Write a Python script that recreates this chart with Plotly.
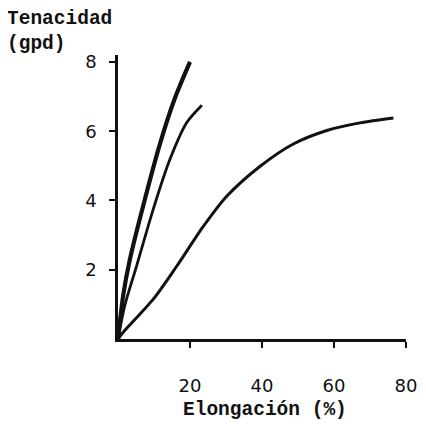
import plotly.graph_objects as go

# Curve data (elongation %, tenacity gpd)
fiber_a_x = [0, 1.5, 3.3, 7.0, 11.7, 15.8, 20.0]
fiber_a_y = [0, 1.3, 2.3, 3.85, 5.65, 6.95, 8.0]

fiber_b_x = [0, 1.9, 5.2, 9.8, 14.4, 19.1, 23.3]
fiber_b_y = [0, 0.97, 2.12, 3.75, 5.18, 6.25, 6.75]

fiber_c_x = [0, 1.5, 9.8, 16.3, 23.7, 30.2, 39.4, 48.7, 58.0, 67.2, 76.5]
fiber_c_y = [0, 0.2, 1.15, 2.1, 3.25, 4.12, 4.98, 5.63, 6.02, 6.24, 6.38]

x_ticks = [20, 40, 60, 80]
y_ticks = [2, 4, 6, 8]

# page body has an 8px margin; figure coordinates are window coordinates minus OFF
OFF = 8
L, T = 118 - OFF, 55 - OFF
PW, PH = 288, 284
W, H = 426 - OFF, 424 - OFF

fig = go.Figure()
for xs, ys, w in [(fiber_a_x, fiber_a_y, 4.2), (fiber_b_x, fiber_b_y, 2.8), (fiber_c_x, fiber_c_y, 3.0)]:
    fig.add_trace(go.Scatter(x=xs, y=ys, mode="lines",
                             line=dict(color="#111111", width=w, shape="spline", smoothing=0.8),
                             showlegend=False, hoverinfo="skip"))

tick_font = dict(family="DejaVu Sans", size=18, color="#111111")
title_font = dict(family="Liberation Mono", size=19.5, color="#111111")

fig.update_layout(
    width=W, height=H,
    margin=dict(l=L, r=W - L - PW, t=T, b=H - T - PH),
    paper_bgcolor="white", plot_bgcolor="white",
    xaxis=dict(range=[0, 80], tickvals=x_ticks, ticktext=[str(v) for v in x_ticks],
               showgrid=False, zeroline=False, showline=True, linecolor="#111111", linewidth=2.5,
               ticks="outside", ticklen=6, tickwidth=2, tickcolor="#111111",
               tickfont=tick_font, ticklabelstandoff=23, automargin=False),
    yaxis=dict(range=[0, 8.2], tickvals=y_ticks, ticktext=[str(v) for v in y_ticks],
               showgrid=False, zeroline=False, showline=True, linecolor="#111111", linewidth=2.5,
               ticks="outside", ticklen=6, tickwidth=2, tickcolor="#111111",
               tickfont=tick_font, ticklabelstandoff=9, automargin=False),
)


def to_paper(px, py):
    return ((px - OFF) - L) / PW, (T + PH - (py - OFF)) / PH


for text, px, py in [("<b>Tenacidad</b>", 5, 19), ("<b>(gpd)</b>", 5, 44)]:
    x, y = to_paper(px, py)
    fig.add_annotation(text=text, xref="paper", yref="paper", x=x, y=y,
                       xanchor="left", yanchor="middle", showarrow=False, font=title_font)

x, y = to_paper(265, 410)
fig.add_annotation(text="<b>Elongación (%)</b>", xref="paper", yref="paper", x=x, y=y,
                   xanchor="center", yanchor="middle", showarrow=False, font=title_font)

fig.write_html("out.html")
